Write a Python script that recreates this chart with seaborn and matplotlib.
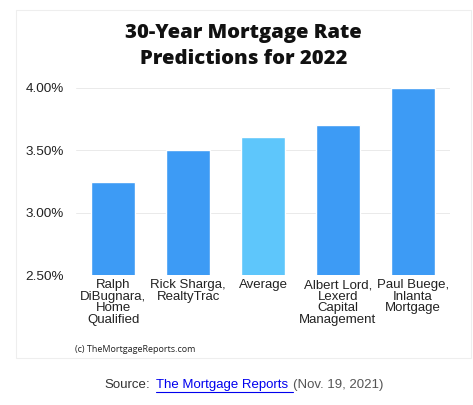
import matplotlib
matplotlib.use("Agg")
import matplotlib.pyplot as plt
import seaborn as sns
import pandas as pd
from matplotlib.patches import Rectangle
from matplotlib.ticker import FuncFormatter

forecasters = [
    "Ralph\nDiBugnara,\nHome\nQualified",
    "Rick Sharga,\nRealtyTrac",
    "Average",
    "Albert Lord,\nLexerd\nCapital\nManagement",
    "Paul Buege,\nInlanta\nMortgage",
]
rates = [3.25, 3.50, 3.61, 3.70, 4.00]
y_ticks = [2.50, 3.00, 3.50, 4.00]

df = pd.DataFrame({"who": forecasters, "rate": rates})
palette = ["#3d9bf5", "#3d9bf5", "#5ec6fb", "#3d9bf5", "#3d9bf5"]

sns.set_style("white")
fig = plt.figure(figsize=(4.73, 4.05), dpi=100)
ax = fig.add_axes([76 / 473, 1 - 275 / 405, 374 / 473, 187 / 405])

sns.barplot(data=df, x="who", y="rate", hue="who", palette=palette,
            legend=False, width=0.59, saturation=1, ax=ax)

ax.set_ylim(2.5, 4.0)
ax.set_yticks(y_ticks)
ax.yaxis.set_major_formatter(FuncFormatter(lambda v, _: f"{v:.2f}%"))
ax.grid(axis="y", color="#e6e6e6", linewidth=0.6)
ax.set_axisbelow(True)
for s in ax.spines.values():
    s.set_visible(False)
ax.set_xlabel("")
ax.set_ylabel("")
ax.tick_params(axis="y", length=0, pad=9, labelsize=9.7, labelcolor="#222222")
ax.tick_params(axis="x", length=0, pad=3, labelsize=9.5, labelcolor="#222222")
for lab in ax.get_yticklabels() + ax.get_xticklabels():
    lab.set_fontfamily("Liberation Sans")
for lab in ax.get_xticklabels():
    lab.set_linespacing(0.95)
    lab.set_verticalalignment("top")

# card border
fig.patches.append(Rectangle((16 / 473, 1 - 358 / 405), 455 / 473, 348 / 405,
                             transform=fig.transFigure, fill=False,
                             edgecolor="#eeeeee", linewidth=0.8))

fig.text(0.515, 1 - 46 / 405, "30-Year Mortgage Rate\nPredictions for 2022",
         ha="center", va="center", fontsize=14.6, fontweight="heavy",
         family="Open Sans", linespacing=1.35, color="#111111")

fig.text(75 / 473, 1 - 350 / 405, "(c) TheMortgageReports.com",
         ha="left", va="center", fontsize=6.5, family="Open Sans", color="#222222")

# source line
y_src = 1 - 385 / 405
fig.text(104 / 473, y_src, "Source", ha="left", va="center", fontsize=9.5,
         family="Liberation Sans", color="#333333")
fig.text(146 / 473, y_src, ":", ha="left", va="center", fontsize=9.5,
         family="Liberation Sans", color="#333333")
fig.text(156 / 473, y_src, "The Mortgage Reports ", ha="left", va="center",
         fontsize=9.5, family="Liberation Sans", color="#0000ee")
fig.text(293 / 473, y_src, "(Nov. 19, 2021)", ha="left", va="center",
         fontsize=9.5, family="Liberation Sans", color="#555555")
fig.lines.append(plt.Line2D([156 / 473, 293 / 473], [1 - 392 / 405, 1 - 392 / 405],
                            transform=fig.transFigure, color="#0000ee", linewidth=0.8))

fig.savefig("out.png", dpi=100)
